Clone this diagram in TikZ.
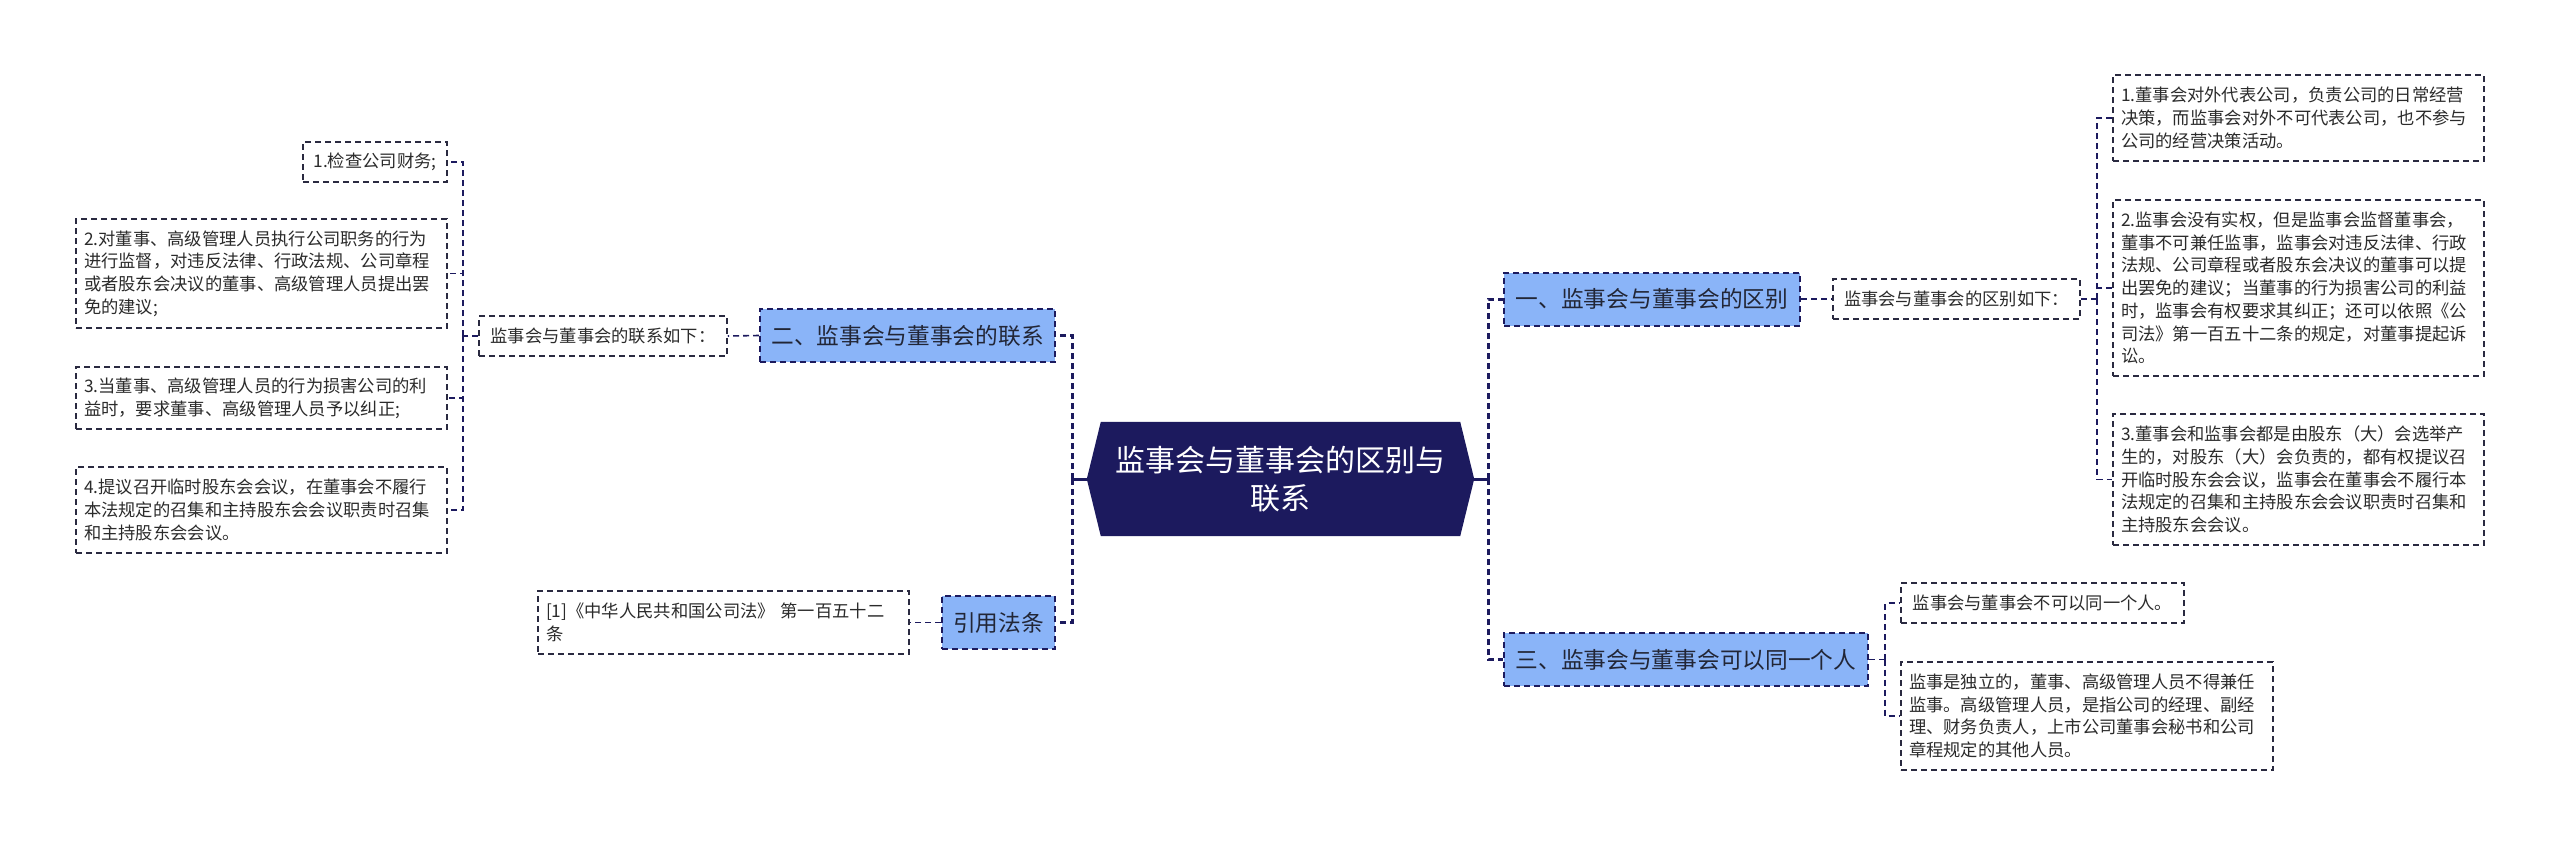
\documentclass[tikz,border=0pt]{standalone}
\usepackage{fontspec}
\setmainfont{Noto Sans CJK SC}
\usetikzlibrary{backgrounds}
\definecolor{navy}{HTML}{1C1A5E}
\definecolor{bluefill}{HTML}{8AB4F8}
\definecolor{leaftext}{HTML}{2B2B2B}
\definecolor{branchtext}{HTML}{222636}
\definecolor{leafborder}{HTML}{2A2A40}
\tikzset{
  leaf/.style={draw=leafborder, line width=1.5pt, dash pattern=on 6pt off 4pt, fill=white,
    font=\fontsize{17.3}{22.7}\selectfont, text=leaftext, inner sep=0pt, align=left},
  branch/.style={draw=navy, line width=2pt, dash pattern=on 6pt off 4pt, fill=bluefill,
    font=\fontsize{22.7}{28}\selectfont, text=branchtext, inner sep=0pt, minimum height=53pt},
  rootnode/.style={font=\fontsize{30}{38}\selectfont, text=white, align=center, inner sep=0pt,
    minimum width=387pt, minimum height=114pt},
  trunk/.style={draw=navy, line width=3pt, dash pattern=on 6pt off 4pt},
  twig/.style={draw=navy, line width=1.6pt, dash pattern=on 6pt off 4pt},
  stem/.style={draw=navy, line width=3pt},
}
\begin{document}
\begin{tikzpicture}[x=1pt,y=-1pt]
\useasboundingbox (0,0) rectangle (2560,846);
\begin{scope}[on background layer]
  \fill[white] (0,0) rectangle (2560,846);
\end{scope}

% root
\node[rootnode] (root) at (1280.5,479) {监事会与董事会的区别与\\联系};
\begin{scope}[on background layer]
  \fill[navy] ([xshift=14pt]root.north west) -- ([xshift=-14pt]root.north east) -- (root.east)
    -- ([xshift=-14pt]root.south east) -- ([xshift=14pt]root.south west) -- (root.west) -- cycle;
\end{scope}

% branches
\node[branch, minimum width=296pt] (B1) at (1652,299) {一、监事会与董事会的区别};
\node[branch, minimum width=364pt] (B3) at (1686,659.5) {三、监事会与董事会可以同一个人};
\node[branch, minimum width=295pt] (B2) at (907.5,335.5) {二、监事会与董事会的联系};
\node[branch, minimum width=113pt] (B4) at (998.5,622.5) {引用法条};

% left leaves
\node[leaf, minimum width=248pt, minimum height=40pt] (L0) at (603,336) {监事会与董事会的联系如下：};
\node[leaf, minimum width=144pt, minimum height=40pt] (L1) at (375,162) {1.检查公司财务;};
\node[leaf, minimum width=371pt, minimum height=109pt, text width=355pt] (L2) at (261.5,273.5)
  {2.对董事、高级管理人员执行公司职务的行为\\进行监督，对违反法律、行政法规、公司章程\\或者股东会决议的董事、高级管理人员提出罢\\免的建议;};
\node[leaf, minimum width=371pt, minimum height=62pt, text width=355pt] (L3) at (261.5,398)
  {3.当董事、高级管理人员的行为损害公司的利\\益时，要求董事、高级管理人员予以纠正;};
\node[leaf, minimum width=371pt, minimum height=86pt, text width=355pt] (L4) at (261.5,510)
  {4.提议召开临时股东会会议，在董事会不履行\\本法规定的召集和主持股东会会议职责时召集\\和主持股东会会议。};
\node[leaf, minimum width=371pt, minimum height=63pt, text width=355pt] (L5) at (723.5,622.5)
  {[1]《中华人民共和国公司法》 第一百五十二\\条};

% right leaves
\node[leaf, minimum width=247pt, minimum height=40pt] (R0) at (1956.5,299) {监事会与董事会的区别如下：};
\node[leaf, minimum width=371pt, minimum height=86pt, text width=355pt] (R1) at (2298.5,118)
  {1.董事会对外代表公司，负责公司的日常经营\\决策，而监事会对外不可代表公司，也不参与\\公司的经营决策活动。};
\node[leaf, minimum width=371pt, minimum height=176pt, text width=355pt] (R2) at (2298.5,288)
  {2.监事会没有实权，但是监事会监督董事会，\\董事不可兼任监事，监事会对违反法律、行政\\法规、公司章程或者股东会决议的董事可以提\\出罢免的建议；当董事的行为损害公司的利益\\时，监事会有权要求其纠正；还可以依照《公\\司法》第一百五十二条的规定，对董事提起诉\\讼。};
\node[leaf, minimum width=371pt, minimum height=131pt, text width=355pt] (R3) at (2298.5,479.5)
  {3.董事会和监事会都是由股东（大）会选举产\\生的，对股东（大）会负责的，都有权提议召\\开临时股东会会议，监事会在董事会不履行本\\法规定的召集和主持股东会会议职责时召集和\\主持股东会会议。};
\node[leaf, minimum width=283pt, minimum height=40pt] (R4) at (2042.5,603) {监事会与董事会不可以同一个人。};
\node[leaf, minimum width=372pt, minimum height=108pt, text width=356pt] (R5) at (2087,716)
  {监事是独立的，董事、高级管理人员不得兼任\\监事。高级管理人员，是指公司的经理、副经\\理、财务负责人，上市公司董事会秘书和公司\\章程规定的其他人员。};

% junctions
\coordinate (lj) at (1072,479);
\coordinate (rj) at (1488,479);
\coordinate (lj2) at (463,336);
\coordinate (rj2) at (2097,299);
\coordinate (rj3) at (1885,659.5);

% connectors
\begin{scope}[on background layer]
\draw[stem] (root.west) -- (lj);
\draw[stem] (root.east) -- (rj);
\draw[trunk] (lj) |- (B2.east);
\draw[trunk] (lj) |- (B4.east);
\draw[trunk] (rj) |- (B1.west);
\draw[trunk] (rj) |- (B3.west);
\draw[twig] (B2.west) -- (L0.east);
\draw[twig] (B4.west) -- (L5.east);
\draw[twig] (B1.east) -- (R0.west);
\draw[twig] (L0.west) -- (lj2);
\draw[twig] (lj2) |- (L1.east);
\draw[twig] (lj2) |- (L2.east);
\draw[twig] (lj2) |- (L3.east);
\draw[twig] (lj2) |- (L4.east);
\draw[twig] (R0.east) -- (rj2);
\draw[twig] (rj2) |- (R1.west);
\draw[twig] (rj2) |- (R2.west);
\draw[twig] (rj2) |- (R3.west);
\draw[twig] (B3.east) -- (rj3);
\draw[twig] (rj3) |- (R4.west);
\draw[twig] (rj3) |- (R5.west);
\end{scope}
\end{tikzpicture}
\end{document}
